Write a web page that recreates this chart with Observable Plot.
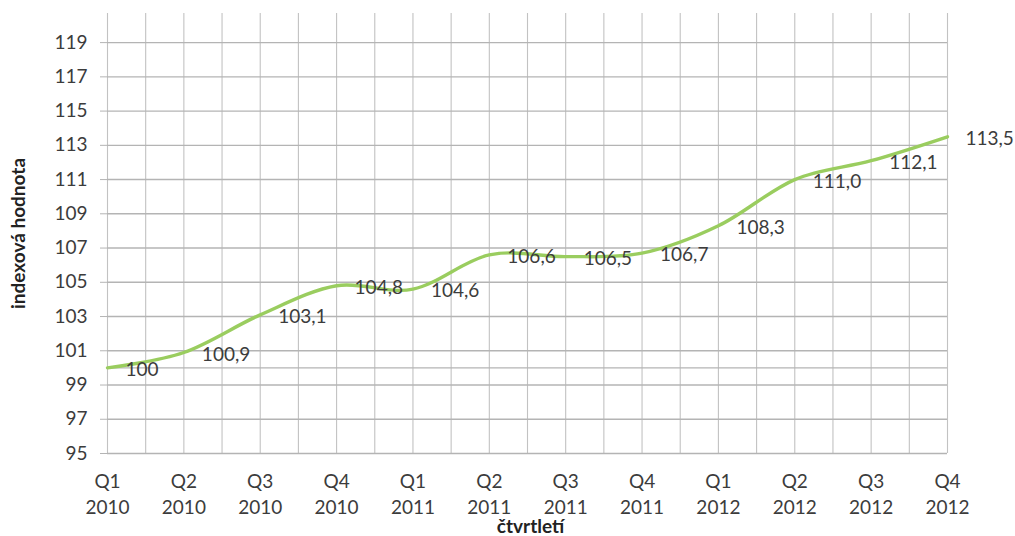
<!DOCTYPE html>
<html>
<head>
<meta charset="utf-8">
<script src="https://cdn.jsdelivr.net/npm/d3@7"></script>
<script src="https://cdn.jsdelivr.net/npm/@observablehq/plot@0.6"></script>
<style>
  body { margin: 0; background: #fff; }
  #chart svg { display: block; }
</style>
</head>
<body>
<div id="chart"></div>
<script>
// Quarterly index values, Q1 2010 = 100
const quarters = ["Q1", "Q2", "Q3", "Q4", "Q1", "Q2", "Q3", "Q4", "Q1", "Q2", "Q3", "Q4"];
const years = [2010, 2010, 2010, 2010, 2011, 2011, 2011, 2011, 2012, 2012, 2012, 2012];
const values = [100, 100.9, 103.1, 104.8, 104.6, 106.6, 106.5, 106.7, 108.3, 111.0, 112.1, 113.5];
const yTicks = d3.range(95, 120, 2);
const baseLine = [100];

const data = values.map((v, i) => ({i, v}));
// Czech decimal comma; the base period is shown as a plain 100
const fmt = (d) => d.i === 0 ? String(d.v) : d.v.toFixed(1).replace(".", ",");

const textColor = "#3c3c3c";
const gridColor = "#b4b4b4";
const fs = 19;

const chart = Plot.plot({
  width: 1015,
  height: 536,
  marginLeft: 107,
  marginRight: 68,
  marginTop: 13,
  marginBottom: 83,
  style: {fontFamily: "Lato", fontSize: `${fs}px`, color: textColor, background: "#fff"},
  x: {type: "linear", domain: [0, quarters.length - 1], label: null},
  y: {domain: [95, 120.7], label: null},
  marks: [
    // vertical grid at every quarter and half-quarter
    Plot.ruleX(d3.range(0, quarters.length - 0.5, 0.5), {stroke: "#c2c2c2", strokeWidth: 1.1}),
    // horizontal grid at labelled ticks plus the base level
    Plot.ruleY([...yTicks, ...baseLine], {stroke: gridColor, strokeWidth: 1.4}),
    Plot.axisY(yTicks, {
      tickSize: 7, tickPadding: 13, stroke: gridColor, fill: textColor,
      fontSize: fs, label: null
    }),
    Plot.axisX(d3.range(quarters.length), {
      tickSize: 0, tickPadding: 17, fill: textColor, fontSize: fs,
      lineHeight: 1.33, label: null,
      tickFormat: (i) => `${quarters[i]}\n${years[i]}`
    }),
    Plot.line(data, {x: "i", y: "v", curve: "cardinal", stroke: "#9acd5f", strokeWidth: 3.4}),
    Plot.text(data, {
      x: "i", y: "v", text: fmt, textAnchor: "start", dx: 18, dy: 2,
      fill: textColor, fontSize: fs
    }),
    Plot.text(["indexová hodnota"], {
      frameAnchor: "left", textAnchor: "middle", lineAnchor: "middle",
      rotate: -90, dx: -89, fontWeight: "bold", fontSize: fs, fill: "#222"
    }),
    Plot.text(["čtvrtletí"], {
      frameAnchor: "bottom", textAnchor: "middle", lineAnchor: "middle",
      dx: 3, dy: 73, fontWeight: "bold", fontSize: fs, fill: "#222"
    })
  ]
});

document.getElementById("chart").append(chart);
</script>
</body>
</html>
